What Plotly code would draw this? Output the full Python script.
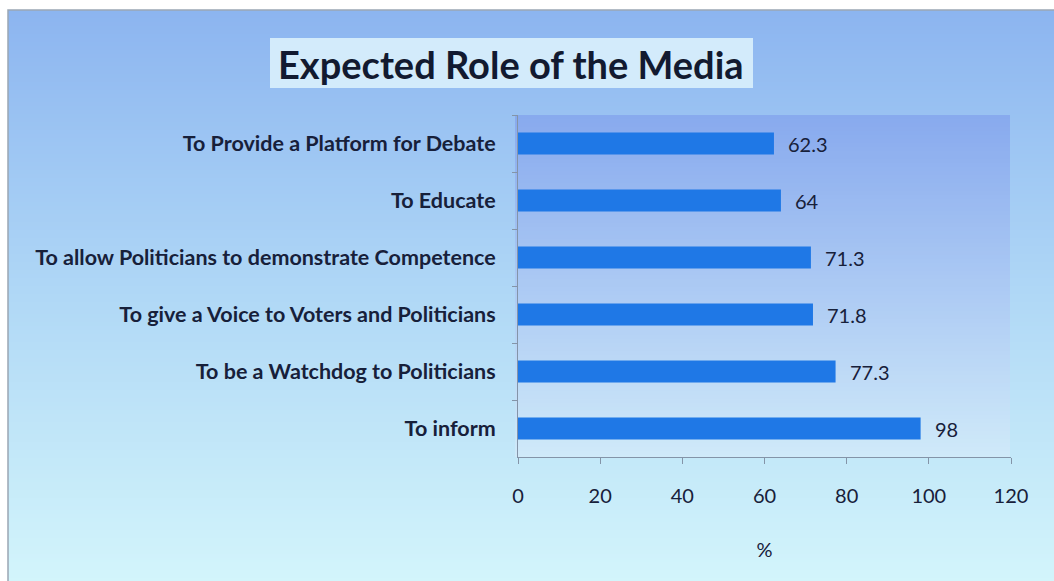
import plotly.graph_objects as go

# Survey responses, listed top to bottom as shown
roles = [
    "To Provide a Platform for Debate",
    "To Educate",
    "To allow Politicians to demonstrate Competence",
    "To give a Voice to Voters and Politicians",
    "To be a Watchdog to Politicians",
    "To inform",
]
percent = [62.3, 64, 71.3, 71.8, 77.3, 98]
x_ticks = [0, 20, 40, 60, 80, 100, 120]

W, H = 1054, 581
L, R, T, B = 518, 43, 115, 124
FONT = "Lato, 'Open Sans', sans-serif"
INK = "#17203a"


def px_to_paper_x(px):
    return (px - L) / (W - L - R)


def px_to_paper_y(py):
    return 1 - (py - T) / (H - T - B)


def lerp(c1, c2, t):
    return tuple(round(a + (b - a) * t) for a, b in zip(c1, c2))


def hex_rgb(h):
    h = h.lstrip("#")
    return tuple(int(h[i:i + 2], 16) for i in (0, 2, 4))


shapes = []

# page background: vertical blue-to-cyan gradient in strips
top_c, mid_c, bot_c = hex_rgb("#8cb5f0"), hex_rgb("#b0d8f6"), hex_rgb("#d3f5fb")
y0_bg, y1_bg, step = 10, H, 4
y = y0_bg
while y < y1_bg:
    t = (y - y0_bg) / (y1_bg - y0_bg)
    c = lerp(top_c, mid_c, t / 0.5) if t < 0.5 else lerp(mid_c, bot_c, (t - 0.5) / 0.5)
    shapes.append(dict(
        type="rect", xref="paper", yref="paper", layer="below",
        x0=px_to_paper_x(8), x1=px_to_paper_x(W),
        y0=px_to_paper_y(y), y1=px_to_paper_y(min(y + step + 1, y1_bg)),
        fillcolor="rgb(%d,%d,%d)" % c, line_width=0,
    ))
    y += step

# plot area tint, darker at top and fading out toward the axis
pa_top, pa_bot = hex_rgb("#88aaee"), hex_rgb("#d0eaf9")
y = T
while y < H - B:
    t = (y - T) / (H - B - T)
    c = lerp(pa_top, pa_bot, t)
    shapes.append(dict(
        type="rect", xref="paper", yref="paper", layer="below",
        x0=px_to_paper_x(515), x1=px_to_paper_x(1010),
        y0=px_to_paper_y(y), y1=px_to_paper_y(min(y + step + 1, H - B)),
        fillcolor="rgb(%d,%d,%d)" % c, line_width=0,
    ))
    y += step

# outer frame line
shapes.append(dict(
    type="rect", xref="paper", yref="paper", layer="below",
    x0=px_to_paper_x(8), x1=px_to_paper_x(W + 2),
    y0=px_to_paper_y(H + 2), y1=px_to_paper_y(10),
    line=dict(color="#9aa6b4", width=1.5), fillcolor="rgba(0,0,0,0)",
))

# title box
shapes.append(dict(
    type="rect", xref="paper", yref="paper", layer="below",
    x0=px_to_paper_x(270), x1=px_to_paper_x(753),
    y0=px_to_paper_y(88), y1=px_to_paper_y(38),
    fillcolor="#d3ebfb", line_width=0,
))

fig = go.Figure(go.Bar(
    x=percent, y=roles, orientation="h",
    marker=dict(color="#1f78e6", line_width=0),
    width=0.39,
))

annotations = [
    dict(x=v, y=r, xref="x", yref="y", text=f"{v:g}", showarrow=False,
         xanchor="left", xshift=12, font=dict(family=FONT, size=20, color=INK))
    for v, r in zip(percent, roles)
]
annotations.append(dict(
    x=px_to_paper_x(511), y=px_to_paper_y(64), xref="paper", yref="paper",
    text="<b>Expected Role of the Media</b>", showarrow=False,
    xanchor="center", yanchor="middle",
    font=dict(family=FONT, size=38, color="#121a30"),
))

fig.update_layout(
    width=W, height=H,
    margin=dict(l=L, r=R, t=T, b=B, pad=0),
    paper_bgcolor="white",
    plot_bgcolor="rgba(0,0,0,0)",
    showlegend=False,
    shapes=shapes,
    annotations=annotations,
    font=dict(family=FONT, color=INK),
    xaxis=dict(
        range=[0, 120], tickvals=x_ticks, ticktext=[str(v) for v in x_ticks],
        showgrid=False, zeroline=False,
        showline=True, linecolor="#8494a8", linewidth=1,
        ticks="outside", ticklen=6, tickcolor="#8494a8",
        ticklabelstandoff=15,
        tickfont=dict(size=20, color=INK),
        title=dict(text="%", font=dict(size=20, color=INK), standoff=36),
        fixedrange=True,
    ),
    yaxis=dict(
        autorange="reversed", type="category",
        showgrid=False, zeroline=False,
        showline=True, linecolor="#8494a8", linewidth=1,
        ticks="outside", ticklen=5, tickcolor="#8494a8",
        tickson="boundaries",
        ticklabelstandoff=17,
        tickfont=dict(size=21.5, color=INK, weight="bold"),
        fixedrange=True,
    ),
)

fig.write_html("out.html", config={"displayModeBar": False})
